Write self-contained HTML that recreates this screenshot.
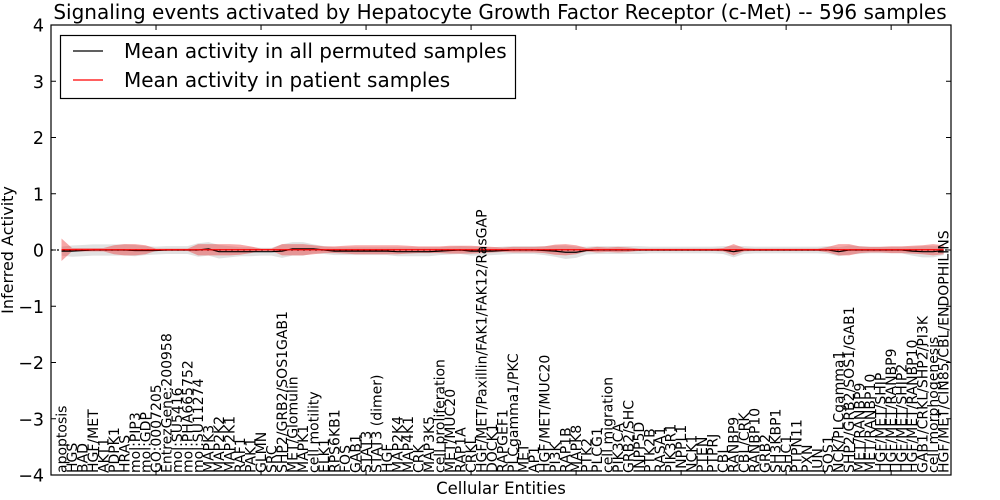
<!DOCTYPE html>
<html><head><meta charset="utf-8">
<style>
body{margin:0;background:#fff;}
svg{display:block;font-family:"DejaVu Sans","Liberation Sans",sans-serif;}
</style></head>
<body>
<svg id="chart" width="1000" height="500" xmlns="http://www.w3.org/2000/svg"></svg>
<script>
const categories=["apoptosis","HGS","BAD","HGF/MET","AKT1","PDPK1","HRAS","mol:PIP3","mol:GDP","GO:0007205","EntrezGene:200958","mol:SU5416","mol:PHA665752","mol:SU11274","MAPK3","MAP2K2","MAP2K1","RAF1","PAK1","GLMN","SRC","SHP2/GRB2/SOS1GAB1","MET/Glomulin","MAPK1","cell motility","ELK1","RPS6KB1","FOS","GAB1","STAT3","STAT3 (dimer)","HGF","MAP2K4","MAP4K1","CRK","MAP3K5","cell proliferation","MET/MUC20","RAP1A","CRKL","HGF/MET/Paxillin/FAK1/FAK12/RasGAP","DOCK1","RAPGEF1","PLCgamma1/PKC","MET","AP1","HGF/MET/MUC20","PI3K","RAP1B","MAPK8","PTK2","PLCG1","cell migration","PIK3CA","GRB2/SHC","INPP5D","PTK2B","RASA1","PIK3R1","INPPL1","NCK1","PTEN","PTPRJ","CBL","RANBP9","CBL/CRK","RANBP10","GRB2","SH3KBP1","SHC1","PTPN11","PXN","JUN","SOS1","NCK/PLCgamma1","SHP2/GRB2/SOS1/GAB1","MET/RANBP9","MET/RANBP10","HGF/MET/SHIP","HGF/MET/RANBP9","HGF/MET/SHIP2","HGF/MET/RANBP10","GAB1/CRKL/SHP2/PI3K","cell morphogenesis","HGF/MET/CIN85/CBL/ENDOPHILINS"];
const permMean=[-0.02,-0.02,-0.01,0,0,0,0,-0.01,-0.01,-0.01,0,0,0,0,0.02,-0.03,-0.03,-0.03,-0.03,-0.03,-0.03,-0.02,0.02,0.02,0.02,0,-0.02,-0.02,-0.02,-0.02,-0.02,-0.02,-0.03,-0.03,-0.03,-0.03,-0.02,-0.01,0,-0.02,-0.02,-0.02,-0.01,0,0,0,-0.01,-0.02,-0.04,-0.04,-0.01,0,0,0,0,0,0,0,0,0,0,0,0,0,-0.03,0,0,0,0,0,0,0,0,0,-0.03,0,0,0,0,0,0,-0.02,-0.03,-0.03,-0.01];
const patientMean=new Array(85).fill(0.005);
const permSpread=[0.08,0.1,0.1,0.1,0.1,0.1,0.1,0.1,0.08,0.07,0.07,0.07,0.07,0.12,0.12,0.12,0.1,0.08,0.08,0.07,0.07,0.12,0.12,0.12,0.08,0.07,0.07,0.07,0.07,0.07,0.07,0.07,0.08,0.08,0.08,0.08,0.07,0.07,0.07,0.08,0.08,0.07,0.07,0.07,0.07,0.07,0.08,0.1,0.12,0.1,0.07,0.07,0.07,0.07,0.07,0.07,0.06,0.06,0.06,0.06,0.06,0.06,0.06,0.07,0.1,0.07,0.06,0.06,0.06,0.06,0.06,0.06,0.06,0.07,0.08,0.08,0.07,0.06,0.06,0.06,0.06,0.08,0.1,0.1,0.08];
const patientSpread=[0.2,0.03,0.03,0.03,0.03,0.08,0.1,0.1,0.08,0.02,0.02,0.02,0.02,0.1,0.1,0.1,0.1,0.09,0.06,0.02,0.02,0.1,0.1,0.1,0.08,0.06,0.06,0.07,0.08,0.08,0.08,0.08,0.08,0.07,0.06,0.06,0.06,0.07,0.07,0.07,0.06,0.05,0.04,0.05,0.05,0.05,0.06,0.09,0.1,0.08,0.03,0.05,0.04,0.05,0.04,0.02,0.02,0.02,0.02,0.02,0.02,0.02,0.02,0.03,0.1,0.03,0.02,0.02,0.02,0.02,0.02,0.02,0.02,0.05,0.1,0.1,0.06,0.05,0.05,0.06,0.06,0.07,0.08,0.1,0.08];
const yTicks=[-4,-3,-2,-1,0,1,2,3,4];
const xTicks=[10,20,30,40,50,60,70,80];

const NS="http://www.w3.org/2000/svg";
const svg=document.getElementById('chart');
const L=51,R=951,T=25,B=475,XMAX=85.7;
const xs=i=>L+(i/XMAX)*(R-L);
const ys=v=>T+(4-v)/8*(B-T);
function mk(tag,attrs,parent){const e=document.createElementNS(NS,tag);for(const k in attrs)e.setAttribute(k,attrs[k]);(parent||svg).appendChild(e);return e;}
function band(mean,spread,fill,name){
  let up=[],dn=[];
  mean.forEach((m,k)=>{up.push(xs(k+1)+','+ys(m+spread[k]));dn.unshift(xs(k+1)+','+ys(m-spread[k]));});
  const p=mk('polygon',{points:up.concat(dn).join(' '),fill:fill});
  
  
}
band(permMean,permSpread,'rgba(180,180,180,0.4)','permuted-band');
band(patientMean,patientSpread,'rgba(235,60,60,0.45)','patient-band');
const zl=mk('line',{x1:L,x2:R,y1:ys(0),y2:ys(0),stroke:'#000','stroke-width':1.2,'stroke-dasharray':'2,4'});


function line(vals,color,name){
  const p=mk('polyline',{points:vals.map((v,k)=>xs(k+1)+','+ys(v)).join(' '),fill:'none',stroke:color,'stroke-width':1.2});
  
  
}
line(permMean,'#000','permuted-mean-line');
line(patientMean,'#f00','patient-mean-line');
const fr=mk('rect',{x:L,y:T,width:R-L,height:B-T,fill:'none',stroke:'#000','stroke-width':1.2});


yTicks.forEach(v=>{
  mk('line',{x1:L,x2:L+5,y1:ys(v),y2:ys(v),stroke:'#000'});
  mk('line',{x1:R,x2:R-5,y1:ys(v),y2:ys(v),stroke:'#000'});
  const t=mk('text',{x:L-7,y:ys(v)+6.5,'text-anchor':'end','font-size':17.5});
  t.textContent=v<0?'\u2212'+Math.abs(v):String(v);
  
  
});
xTicks.forEach(v=>{
  mk('line',{x1:xs(v),x2:xs(v),y1:T,y2:T+5,stroke:'#000'});
  mk('line',{x1:xs(v),x2:xs(v),y1:B,y2:B-5,stroke:'#000'});
});
categories.forEach((c,k)=>{
  const x=xs(k+1);
  const t=mk('text',{x:0,y:0,'font-size':14,transform:`translate(${x+5},${B-2}) rotate(-90)`});
  t.textContent=c;
  
  
});
const title=mk('text',{x:500,y:19,'text-anchor':'middle','font-size':20});
title.textContent='Signaling events activated by Hepatocyte Growth Factor Receptor (c-Met) -- 596 samples';


const xt=mk('text',{x:501,y:494,'text-anchor':'middle','font-size':16.5});
xt.textContent='Cellular Entities';


const yt=mk('text',{x:0,y:0,'text-anchor':'middle','font-size':16,transform:'translate(13,250) rotate(-90)'});
yt.textContent='Inferred Activity';


const lg=mk('g',{});


mk('rect',{x:60.5,y:35.5,width:455,height:63,fill:'#fff',stroke:'#000','stroke-width':1.2},lg);
mk('line',{x1:73,x2:103,y1:51,y2:51,stroke:'#000','stroke-width':1.2},lg);
mk('line',{x1:73,x2:103,y1:80,y2:80,stroke:'#f00','stroke-width':1.2},lg);
const l1=mk('text',{x:124,y:58,'font-size':20},lg);l1.textContent='Mean activity in all permuted samples';


const l2=mk('text',{x:124,y:87,'font-size':20},lg);l2.textContent='Mean activity in patient samples';


</script>
</body></html>
